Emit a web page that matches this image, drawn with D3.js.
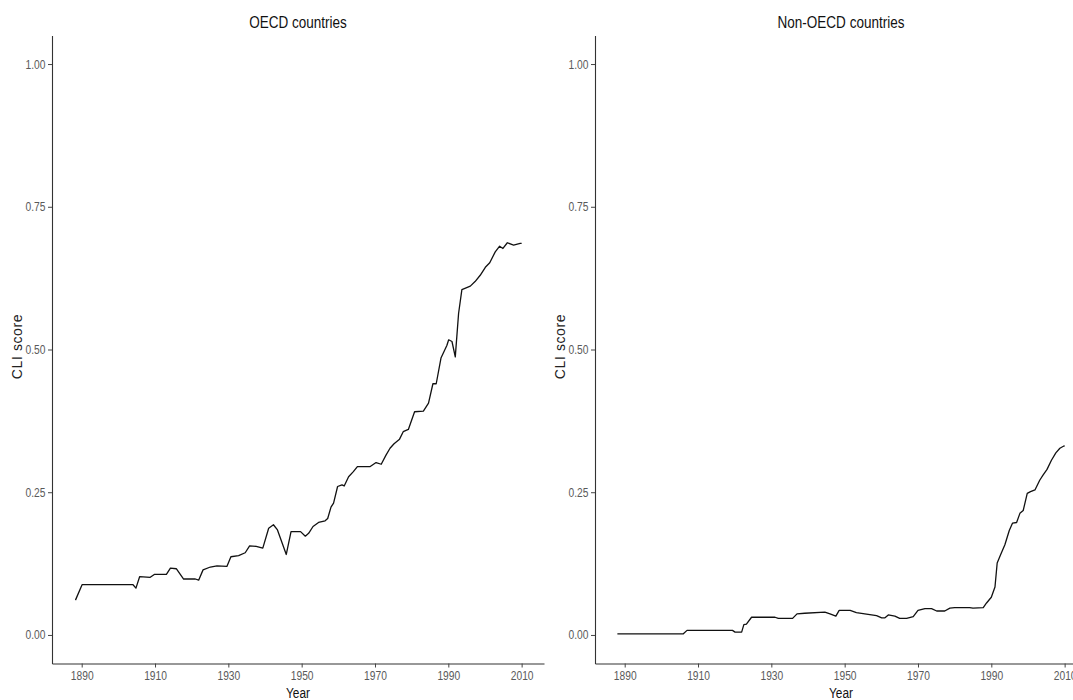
<!DOCTYPE html>
<html>
<head>
<meta charset="utf-8">
<script src="https://cdn.jsdelivr.net/npm/d3@7"></script>
<style>
  html, body { margin: 0; padding: 0; background: #ffffff; }
  svg { display: block; }
  .narrow { font-family: "Liberation Sans", Arial, sans-serif; }
</style>
</head>
<body>
<svg id="chart" width="1073" height="700"></svg>
<script>
// Composite Leading Indicator score by year, OECD members
const oecdYears = [1888.3, 1890.1, 1904.0, 1904.8, 1905.8, 1908.7, 1909.8, 1913.1, 1914.2, 1915.8,
  1917.8, 1921.0, 1921.9, 1923.1, 1925.1, 1926.9, 1929.6, 1930.7, 1932.8, 1934.6,
  1935.8, 1937.6, 1939.4, 1941.0, 1942.3, 1943.4, 1945.8, 1947.1, 1949.7, 1951.0,
  1951.9, 1953.1, 1954.6, 1956.4, 1957.1, 1958.0, 1958.7, 1959.8, 1961.0, 1961.6,
  1962.8, 1964.1, 1965.2, 1968.7, 1970.3, 1971.7, 1973.0, 1974.1, 1975.2, 1976.7,
  1977.7, 1979.1, 1980.8, 1983.2, 1984.6, 1985.8, 1986.7, 1988.0, 1989.6, 1990.1,
  1991.0, 1991.9, 1992.8, 1993.7, 1996.0, 1997.3, 1998.7, 2000.1, 2001.3, 2002.8,
  2004.0, 2004.9, 2006.1, 2007.8, 2009.6, 2010.0];
const oecdValues = [0.061, 0.088, 0.088, 0.082, 0.102, 0.101, 0.106, 0.106, 0.117, 0.116,
  0.098, 0.098, 0.096, 0.114, 0.119, 0.121, 0.120, 0.137, 0.139, 0.144,
  0.156, 0.155, 0.152, 0.187, 0.193, 0.184, 0.141, 0.181, 0.181, 0.173,
  0.178, 0.190, 0.197, 0.200, 0.204, 0.224, 0.231, 0.260, 0.263, 0.261,
  0.277, 0.286, 0.295, 0.295, 0.302, 0.299, 0.315, 0.327, 0.335, 0.343,
  0.356, 0.360, 0.391, 0.392, 0.406, 0.440, 0.440, 0.485, 0.507, 0.517,
  0.514, 0.487, 0.563, 0.605, 0.611, 0.619, 0.630, 0.644, 0.652, 0.671,
  0.681, 0.677, 0.687, 0.683, 0.686, 0.686];

// Same indicator for non-member countries
const nonOecdYears = [1888.0, 1906.0, 1907.0, 1919.4, 1920.1, 1921.9, 1922.5, 1923.2, 1924.6, 1931.0,
  1931.9, 1935.8, 1937.0, 1939.1, 1944.6, 1946.0, 1947.6, 1948.5, 1951.5, 1953.2,
  1956.4, 1958.7, 1960.1, 1961.0, 1961.9, 1963.7, 1965.0, 1966.9, 1968.7, 1970.0,
  1971.9, 1973.7, 1975.1, 1977.3, 1978.7, 1980.0, 1984.1, 1985.0, 1987.8, 1988.7,
  1990.0, 1991.0, 1991.6, 1992.5, 1993.7, 1994.9, 1995.8, 1996.9, 1997.8, 1998.7,
  1999.8, 2000.7, 2001.9, 2003.2, 2004.1, 2005.2, 2006.4, 2007.6, 2008.7, 2009.8, 2010.0];
const nonOecdValues = [0.002, 0.002, 0.008, 0.008, 0.005, 0.005, 0.018, 0.019, 0.031, 0.031,
  0.029, 0.029, 0.037, 0.038, 0.040, 0.037, 0.033, 0.043, 0.043, 0.039,
  0.036, 0.034, 0.030, 0.030, 0.035, 0.033, 0.029, 0.029, 0.032, 0.043,
  0.046, 0.046, 0.042, 0.042, 0.047, 0.048, 0.048, 0.047, 0.048, 0.056,
  0.066, 0.084, 0.126, 0.140, 0.158, 0.183, 0.196, 0.197, 0.213, 0.218,
  0.248, 0.251, 0.254, 0.271, 0.280, 0.290, 0.306, 0.319, 0.327, 0.331, 0.331];

const yearTicks = [1890, 1910, 1930, 1950, 1970, 1990, 2010];
const scoreTicks = [0, 0.25, 0.5, 0.75, 1];

const panels = [
  { title: "OECD countries", years: oecdYears, values: oecdValues, left: 52, right: 544 },
  { title: "Non-OECD countries", years: nonOecdYears, values: nonOecdValues, left: 595, right: 1087 }
];

const svg = d3.select("#chart");
const plotTop = 35.5, plotBottom = 663.5;
const squeeze = 0.82; // horizontal compression for the condensed label face

// Data range 1888–2010 and 0–1, each padded by 5% on both sides
const xDomain = [1888 - 0.05 * 122, 2010 + 0.05 * 122];
const yDomain = [-0.05, 1.05];

// Condensed text: anchored at (x, y) and squeezed horizontally around that point
function condensedText(parent, x, y, size, fill, label) {
  return parent.append("g")
    .attr("transform", `translate(${x},${y})`)
    .append("text")
    .attr("class", "narrow")
    .attr("transform", `scale(${squeeze},1)`)
    .attr("text-anchor", "middle")
    .attr("fill", fill)
    .style("font-size", size + "px")
    .text(label);
}

panels.forEach(p => {
  const x = d3.scaleLinear().domain(xDomain).range([p.left, p.right]);
  const y = d3.scaleLinear().domain(yDomain).range([plotBottom, plotTop]);
  const g = svg.append("g");

  const xAxis = g.append("g")
    .attr("transform", `translate(0,${plotBottom})`)
    .call(d3.axisBottom(x).tickValues(yearTicks).tickFormat(d3.format("d"))
      .tickSizeInner(4).tickSizeOuter(0).tickPadding(3.5));

  const yAxis = g.append("g")
    .attr("transform", `translate(${p.left},0)`)
    .call(d3.axisLeft(y).tickValues(scoreTicks).tickFormat(d3.format(".2f"))
      .tickSizeInner(4).tickSizeOuter(0).tickPadding(2.5));

  [xAxis, yAxis].forEach(a => {
    a.select(".domain").attr("stroke", "#333").attr("stroke-width", 1.1);
    a.selectAll(".tick line").attr("stroke", "#444").attr("stroke-width", 1);
    a.selectAll(".tick text")
      .attr("class", "narrow")
      .attr("fill", "#5a5a5a")
      .attr("transform", `scale(${squeeze},1)`)
      .style("font-size", "12.5px");
  });
  yAxis.selectAll(".tick text").attr("x", -6.5 / squeeze);

  const line = d3.line()
    .x((d, i) => x(p.years[i]))
    .y(d => y(d));

  g.append("path")
    .datum(p.values)
    .attr("d", line)
    .attr("fill", "none")
    .attr("stroke", "#111")
    .attr("stroke-width", 1.3)
    .attr("stroke-linejoin", "round");

  const cx = (p.left + p.right) / 2;

  condensedText(g, cx, 28, 16.5, "#111", p.title);
  condensedText(g, cx, 697.5, 14.5, "#111", "Year");

  g.append("text")
    .attr("transform", `translate(${p.left - 30},${(plotTop + plotBottom) / 2 - 3}) rotate(-90)`)
    .attr("text-anchor", "middle")
    .attr("fill", "#222")
    .style("font-family", "'Liberation Sans', Arial, sans-serif")
    .style("font-size", "14px")
    .style("letter-spacing", "0.6px")
    .text("CLI score");
});
</script>
</body>
</html>
